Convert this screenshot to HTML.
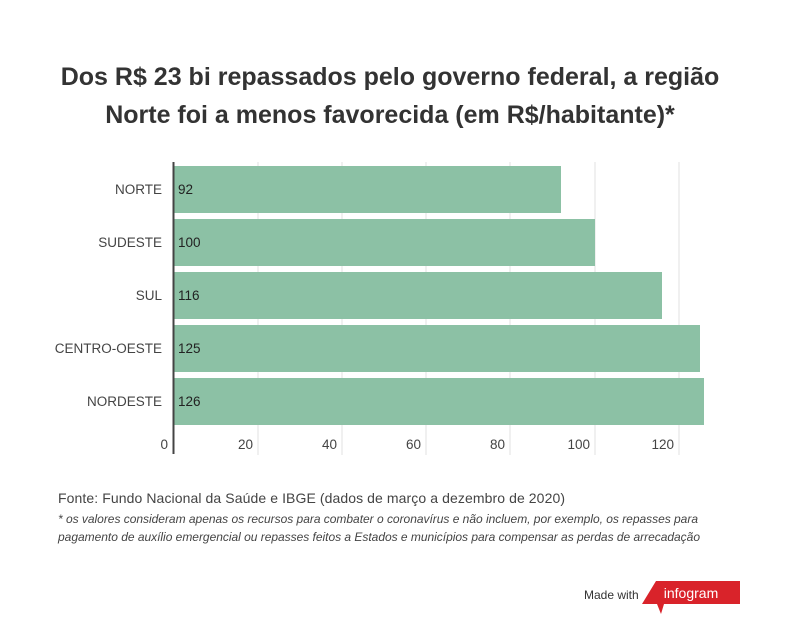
<!DOCTYPE html>
<html><head><meta charset="utf-8"><style>
body{margin:0;background:#fff;width:800px;height:634px;position:relative;font-family:"Liberation Sans",sans-serif;overflow:hidden}
.t{position:absolute;left:-10px;width:800px;text-align:center;font-weight:bold;font-size:25px;color:#333}
</style></head><body>
<div class="t" style="top:63px">Dos R$ 23 bi repassados pelo governo federal, a região</div>
<div class="t" style="top:101px">Norte foi a menos favorecida (em R$/habitante)*</div>
<svg width="800" height="634" style="position:absolute;left:0;top:0" font-family="Liberation Sans, sans-serif">
<g stroke="#e2e2e2" stroke-width="1">
<line x1="258" y1="162" x2="258" y2="455"/><line x1="342" y1="162" x2="342" y2="455"/><line x1="426" y1="162" x2="426" y2="455"/><line x1="510" y1="162" x2="510" y2="455"/><line x1="595" y1="162" x2="595" y2="455"/><line x1="679" y1="162" x2="679" y2="455"/>
</g>
<g fill="#8cc1a5">
<rect x="174" y="166" width="387" height="47"/>
<rect x="174" y="219" width="421" height="47"/>
<rect x="174" y="272" width="488" height="47"/>
<rect x="174" y="325" width="526" height="47"/>
<rect x="174" y="378" width="530" height="47"/>
</g>
<line x1="173.5" y1="162" x2="173.5" y2="454" stroke="#444" stroke-width="2"/>
<g font-size="13.5" fill="#222">
<text x="178" y="194">92</text><text x="178" y="247">100</text><text x="178" y="300">116</text><text x="178" y="353">125</text><text x="178" y="406">126</text>
</g>
<g font-size="13.5" fill="#444" text-anchor="end">
<text x="162" y="194">NORTE</text><text x="162" y="247">SUDESTE</text><text x="162" y="300">SUL</text><text x="162" y="353">CENTRO-OESTE</text><text x="162" y="406">NORDESTE</text>
<text x="168" y="449">0</text><text x="253" y="449">20</text><text x="337" y="449">40</text><text x="421" y="449">60</text><text x="505" y="449">80</text><text x="590" y="449">100</text><text x="674" y="449">120</text>
</g>
<text x="58" y="503" font-size="14" textLength="507" fill="#444">Fonte: Fundo Nacional da Saúde e IBGE (dados de março a dezembro de 2020)</text>
<text x="58" y="523" font-size="12" font-style="italic" textLength="640" fill="#444">* os valores consideram apenas os recursos para combater o coronavírus e não incluem, por exemplo, os repasses para</text>
<text x="58" y="541" font-size="12" font-style="italic" textLength="642" fill="#444">pagamento de auxílio emergencial ou repasses feitos a Estados e municípios para compensar as perdas de arrecadação</text>
<text x="584" y="599" font-size="12" fill="#333">Made with</text>
<path d="M656 581 L740 581 L740 604 L664 604 L661 614 L657 604 L642 604 Z" fill="#d9232a"/>
<text x="691" y="598" font-size="14" fill="#fff" text-anchor="middle">infogram</text>
</svg>
</body></html>
